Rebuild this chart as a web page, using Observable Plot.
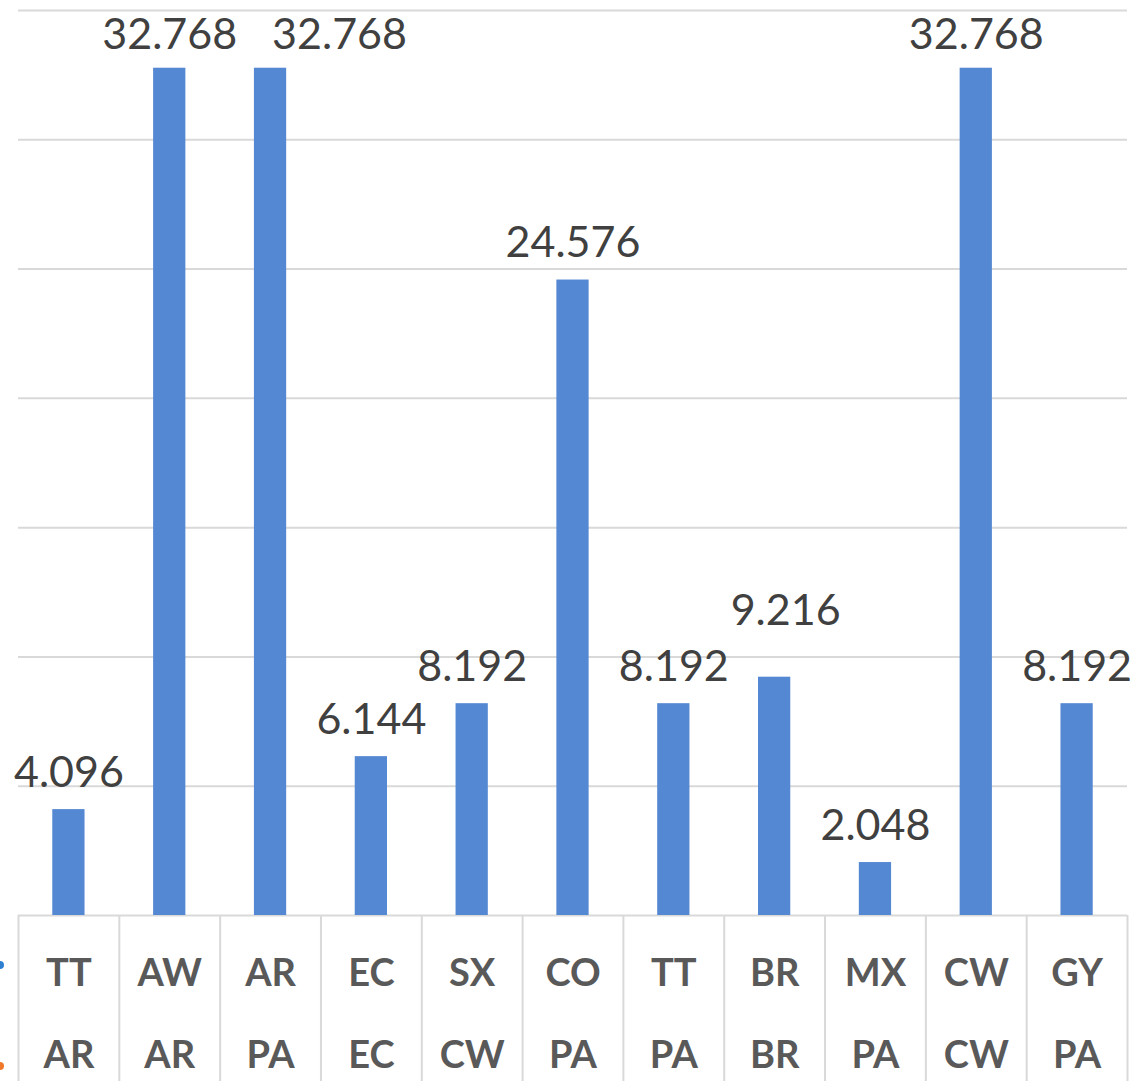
<!DOCTYPE html>
<html>
<head>
<meta charset="utf-8">
<script src="https://cdn.jsdelivr.net/npm/d3@7"></script>
<script src="https://cdn.jsdelivr.net/npm/@observablehq/plot@0.6"></script>
<style>
  html, body { margin: 0; padding: 0; background: #fff; }
  #wrap { position: relative; width: 1135px; height: 1081px; overflow: hidden; }
  .leg { position: absolute; width: 8px; height: 8px; border-radius: 50%; left: -4px; }
</style>
</head>
<body>
<div id="wrap">
  <div id="chart"></div>
  <span class="leg" style="top:961px;background:#2f7fd0"></span>
  <span class="leg" style="top:1062px;background:#f0782a"></span>
</div>
<script>
const topLabels = ["TT", "AW", "AR", "EC", "SX", "CO", "TT", "BR", "MX", "CW", "GY"];
const bottomLabels = ["AR", "AR", "PA", "EC", "CW", "PA", "PA", "BR", "PA", "CW", "PA"];
const values = [4096, 32768, 32768, 6144, 8192, 24576, 8192, 9216, 2048, 32768, 8192];
const yTicks = [0, 5000, 10000, 15000, 20000, 25000, 30000, 35000];

const keys = topLabels.map((t, i) => i);
const data = keys.map(i => ({key: i, top: topLabels[i], bottom: bottomLabels[i], value: values[i]}));
const fmt = v => d3.format(",")(v).replace(/,/g, ".");

const W = 1135, mL = 18, mR = 8;
const bw = (W - mL - mR) / keys.length;
const labelFont = "Lato, 'Open Sans', sans-serif";

// label placement groups (as in the reference, some labels were nudged)
const isTop = d => d.value >= 30000;
const labelStyle = {x: "key", y: "value", text: d => fmt(d.value), lineAnchor: "bottom", fontSize: 43, fill: "#404040"};

const chart = Plot.plot({
  width: W,
  height: 1081,
  marginLeft: mL,
  marginRight: mR,
  marginTop: 10,
  marginBottom: 166,
  style: {fontFamily: labelFont, background: "#fff"},
  x: {type: "band", domain: keys, paddingInner: 0.68, paddingOuter: 0.34, align: 0.5, round: false, axis: null},
  y: {domain: [0, 35000], axis: null},
  marks: [
    Plot.gridY(yTicks, {stroke: "#d9d9d9", strokeOpacity: 1, strokeWidth: 2}),
    Plot.barY(data, {x: "key", y: "value", fill: "#5588d2"}),
    Plot.text(data.filter(d => !isTop(d) && d.key !== 7), {...labelStyle, dy: -23}),
    Plot.text(data.filter(d => d.key === 7), {...labelStyle, dy: -52, dx: 11}),
    Plot.text(data.filter(d => isTop(d) && d.key !== 2), {...labelStyle, dy: -19}),
    Plot.text(data.filter(d => d.key === 2), {...labelStyle, dy: -19, dx: 69}),
    // category separators (left edges)
    Plot.axisX({ticks: keys, tickSize: 170, tickFormat: () => "", label: null, dx: -bw / 2, stroke: "#d9d9d9", strokeWidth: 2, strokeOpacity: 1}),
    Plot.axisX({ticks: [keys[keys.length - 1]], tickSize: 170, tickFormat: () => "", label: null, dx: bw / 2, stroke: "#d9d9d9", strokeWidth: 2, strokeOpacity: 1}),
    // top row labels
    Plot.axisX({ticks: keys, tickSize: 0, tickPadding: 44, tickFormat: i => topLabels[i], label: null,
      fontSize: 38, fontWeight: "bold", fill: "#595959"}),
    // bottom row labels
    Plot.axisX({ticks: keys, tickSize: 0, tickPadding: 126, tickFormat: i => bottomLabels[i], label: null,
      fontSize: 38, fontWeight: "bold", fill: "#595959"})
  ]
});
document.getElementById("chart").appendChild(chart);
</script>
</body>
</html>
